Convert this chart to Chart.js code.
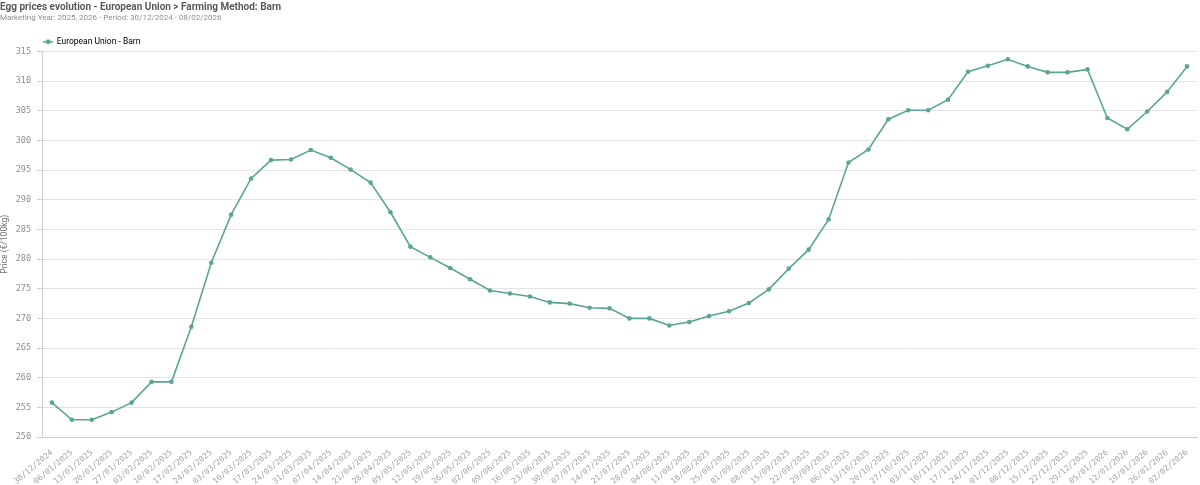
<!DOCTYPE html>
<html>
<head>
<meta charset="utf-8">
<script src="https://cdn.jsdelivr.net/npm/chart.js@4"></script>
<style>
html,body{margin:0;padding:0;background:#fff;}
#wrap{position:relative;width:1200px;height:485px;}
</style>
</head>
<body>
<div id="wrap"><canvas id="c" width="1200" height="485"></canvas></div>
<script>
const weeks = ["30/12/2024","06/01/2025","13/01/2025","20/01/2025","27/01/2025","03/02/2025","10/02/2025","17/02/2025","24/02/2025","03/03/2025","10/03/2025","17/03/2025","24/03/2025","31/03/2025","07/04/2025","14/04/2025","21/04/2025","28/04/2025","05/05/2025","12/05/2025","19/05/2025","26/05/2025","02/06/2025","09/06/2025","16/06/2025","23/06/2025","30/06/2025","07/07/2025","14/07/2025","21/07/2025","28/07/2025","04/08/2025","11/08/2025","18/08/2025","25/08/2025","01/09/2025","08/09/2025","15/09/2025","22/09/2025","29/09/2025","06/10/2025","13/10/2025","20/10/2025","27/10/2025","03/11/2025","10/11/2025","17/11/2025","24/11/2025","01/12/2025","08/12/2025","15/12/2025","22/12/2025","29/12/2025","05/01/2026","12/01/2026","19/01/2026","26/01/2026","02/02/2026"];
const barnPrices = [255.8,252.9,252.9,254.2,255.8,259.3,259.3,268.6,279.4,287.5,293.6,296.7,296.8,298.4,297.1,295.1,292.9,287.9,282.1,280.3,278.5,276.6,274.7,274.2,273.7,272.7,272.5,271.8,271.7,270.0,270.0,268.8,269.4,270.4,271.2,272.6,274.9,278.4,281.6,286.7,296.3,298.5,303.6,305.1,305.1,306.9,311.6,312.6,313.7,312.5,311.5,311.5,312.0,303.8,301.9,304.9,308.2,312.5];
const seriesName = "European Union - Barn";
const chartTitle = "Egg prices evolution - European Union > Farming Method: Barn";
const chartSubtitle = "Marketing Year: 2025, 2026 - Period: 30/12/2024 - 08/02/2026";
const yAxisTitle = "Price (€/100kg)";
const yMin = 250, yMax = 315, yStep = 5;

const lineColor = '#5aa596';
const mono = "'DejaVu Sans Mono', 'Liberation Mono', monospace";
const narrow = "'Liberation Sans Narrow', 'Roboto', 'Lato', sans-serif";
const sans = "'Roboto', 'Open Sans', sans-serif";

// legend marker: short line with dot
const marker = document.createElement('canvas');
marker.width = 10; marker.height = 6;
(function(){
  const g = marker.getContext('2d');
  g.strokeStyle = lineColor; g.lineWidth = 1.6;
  g.beginPath(); g.moveTo(0, 3); g.lineTo(10, 3); g.stroke();
  g.fillStyle = lineColor; g.beginPath(); g.arc(5, 3, 2.4, 0, Math.PI * 2); g.fill();
})();

new Chart(document.getElementById('c'), {
  type: 'line',
  data: {
    labels: weeks,
    datasets: [{
      label: seriesName,
      data: barnPrices,
      borderColor: lineColor,
      backgroundColor: lineColor,
      borderWidth: 1.6,
      pointRadius: 2.3,
      pointHoverRadius: 3,
      pointBorderWidth: 0,
      tension: 0,
      fill: false
    }]
  },
  options: {
    responsive: false,
    animation: false,
    devicePixelRatio: 1,
    layout: { padding: { left: 0, right: 1, top: 1, bottom: 0 } },
    plugins: {
      title: {
        display: true, text: chartTitle, align: 'start',
        color: '#5a5a5a', font: { family: narrow, size: 10, weight: 'bold' },
        padding: { top: 0, bottom: 0 }
      },
      subtitle: {
        display: true, text: chartSubtitle, align: 'start',
        color: '#8f8f8f', font: { family: narrow, size: 8 },
        padding: { top: 0, bottom: 13 }
      },
      legend: {
        display: true, position: 'top', align: 'start', fullSize: false,
        maxHeight: 16,
        labels: {
          usePointStyle: true, boxWidth: 10, boxHeight: 6,
          color: '#707070', font: { family: sans, size: 8.5 }, padding: 2,
          generateLabels(chart) {
            const ds = chart.data.datasets[0];
            return [{ text: ds.label, fillStyle: lineColor, strokeStyle: lineColor, lineWidth: 0, pointStyle: marker, datasetIndex: 0 }];
          }
        }
      },
      tooltip: { enabled: false }
    },
    scales: {
      x: {
        offset: true,
        grid: { display: false },
        border: { display: true, color: '#cfcfcf' },
        ticks: {
          autoSkip: false, minRotation: 40, maxRotation: 40,
          color: '#a5a5a5', font: { family: mono, size: 8 }, padding: 3
        },
        afterFit(s) { s.height = 48; }
      },
      y: {
        min: yMin, max: yMax,
        grid: { color: '#e3e3e3', tickLength: 5, tickColor: '#cfcfcf', drawTicks: true },
        border: { display: true, color: '#cfcfcf' },
        ticks: { stepSize: yStep, color: '#8f8f8f', font: { family: mono, size: 8.5 }, padding: 6 },
        title: { display: true, text: yAxisTitle, color: '#707070', font: { family: sans, size: 8.5 }, padding: 0 },
        afterFit(s) { s.width = 42; }
      }
    }
  }
});
</script>
</body>
</html>
